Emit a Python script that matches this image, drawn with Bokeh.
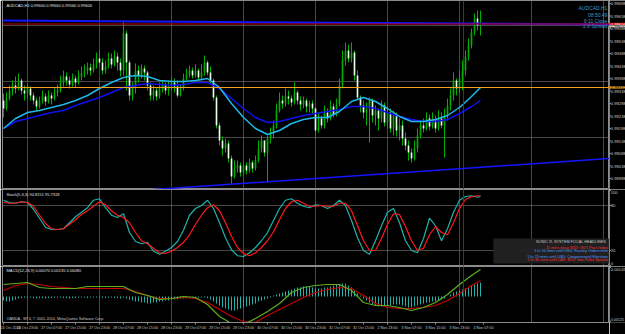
import numpy as np
from bokeh.plotting import figure
from bokeh.models import Range1d, FixedTicker, Span, Label, Grid
from bokeh.layouts import column, row
from bokeh.core.properties import value
from bokeh.embed import file_html
from bokeh.resources import INLINE

FONT = "Liberation Sans"

# ---------------- data (AUDCAD H1, prices in points, 1 pt = 0.00001) ----------------
first_open_pts = 99300
close_pts = [99268,99308,99340,99360,99348,99380,99340,99328,99348,99320,
             99300,99276,99300,99316,99296,99320,99308,99332,99340,99372,
             99396,99380,99364,99388,99372,99396,99408,99420,99432,99420,
             99444,99468,99452,99420,99436,99468,99444,99476,99452,99420,
             99568,99452,99320,99360,99420,99400,99428,99412,99360,99320,
             99340,99316,99348,99364,99340,99356,99372,99356,99320,99348,
             99388,99404,99420,99400,99420,99392,99412,99452,99412,99380,
             99312,99200,99140,99108,99128,99068,98996,99028,99040,99012,
             99040,99020,99052,99028,99060,99108,99140,99092,99148,99172,
             99200,99260,99300,99288,99316,99308,99292,99332,99300,99284,
             99300,99276,99288,99268,99180,99228,99200,99252,99228,99276,
             99244,99284,99360,99460,99500,99468,99492,99400,99312,99280,
             99252,99268,99300,99240,99260,99228,99280,99212,99252,99188,
             99240,99180,99200,99148,99120,99092,99068,99108,99160,99200,
             99188,99228,99196,99220,99188,99228,99200,99240,99280,99320,
             99380,99348,99388,99420,99476,99520,99572,99628,99600,99606]
high_pts = [99328,99332,99360,99380,99396,99408,99388,99360,99364,99356,
            99332,99312,99316,99340,99328,99340,99332,99352,99364,99400,
            99420,99412,99396,99408,99400,99420,99436,99444,99452,99448,
            99468,99492,99500,99468,99460,99492,99488,99500,99492,99468,
            99616,99580,99460,99372,99448,99440,99444,99440,99420,99372,
            99360,99352,99372,99380,99372,99380,99396,99388,99380,99364,
            99408,99428,99440,99432,99444,99428,99444,99480,99460,99436,
            99388,99320,99212,99156,99148,99140,99080,99060,99060,99052,
            99060,99052,99068,99060,99080,99140,99160,99140,99160,99192,
            99220,99288,99332,99320,99348,99340,99320,99372,99340,99316,
            99316,99308,99300,99300,99276,99252,99240,99280,99268,99300,
            99288,99308,99388,99500,99532,99524,99532,99500,99420,99320,
            99300,99292,99312,99308,99280,99268,99300,99292,99276,99268,
            99260,99252,99228,99220,99172,99140,99108,99140,99188,99220,
            99228,99252,99244,99252,99240,99260,99252,99268,99308,99348,
            99412,99388,99420,99460,99500,99548,99588,99648,99660,99660]
low_pts = [99232,99260,99300,99320,99328,99340,99324,99300,99308,99300,
           99284,99260,99268,99288,99280,99288,99284,99300,99316,99332,
           99356,99360,99348,99356,99352,99364,99380,99392,99404,99400,
           99412,99428,99436,99404,99408,99428,99428,99436,99420,99396,
           99400,99340,99300,99300,99328,99372,99388,99380,99340,99300,
           99300,99300,99308,99332,99324,99320,99340,99332,99312,99316,
           99340,99380,99392,99388,99392,99380,99380,99400,99400,99364,
           99300,99188,99120,99080,99092,99052,98968,98988,99012,98996,
           99000,99004,99012,99012,99020,99052,99092,99076,98972,99128,
           99148,99188,99252,99268,99276,99284,99276,99284,99284,99260,
           99268,99252,99252,99248,99148,99172,99188,99188,99212,99220,
           99232,99236,99276,99348,99440,99452,99452,99380,99300,99252,
           99228,99200,99132,99212,99200,99180,99212,99196,99188,99172,
           99160,99156,99140,99120,99100,99060,99052,99060,99092,99148,
           99172,99180,99180,99188,99172,99180,99188,99072,99220,99260,
           99300,99320,99332,99340,99400,99460,99508,99560,99580,99560]

# moving averages, read every 4 bars
ma_bars = [0,4,8,12,16,20,24,28,32,36,40,44,48,52,56,60,64,68,72,76,
           80,84,88,92,96,100,104,108,112,116,120,124,128,132,136,140,144,148,152,156,159]
ma_fast_pts = [99188,99228,99252,99260,99272,99284,99300,99320,99348,99372,
               99392,99400,99396,99380,99376,99376,99380,99388,99352,99288,
               99232,99188,99164,99180,99208,99224,99232,99232,99256,99296,
               99312,99296,99268,99236,99216,99216,99224,99240,99272,99316,99352]
ma_slow_pts = [99188,99216,99228,99240,99252,99260,99280,99296,99312,99332,
               99352,99360,99368,99364,99360,99364,99372,99372,99348,99308,
               99268,99232,99212,99216,99228,99240,99248,99256,99264,99276,
               99276,99268,99252,99236,99224,99216,99216,99224,99248,99276,99300]

# drawn objects
trend_top_bars = [-0.33, 202.0]
trend_top_pts = [99620, 99604]
trend_low_bars = [50, 202.0]
trend_low_pts = [98944, 99068]
level_orange_pts = 99352
marker_bar = 153.33

# stochastic, read every 2 bars
stoch_bars = list(range(0, 160, 2)) + [159]
stoch_k = [87,84,83,85,84,75,63,51,48,48, 49,57,65,71,77,87,89,77,67,64,
           69,44,32,29,31,19,15,19,24,32, 47,67,76,80,87,76,57,37,21,13,
           12,17,24,33,44,60,76,87,89,83, 79,77,81,80,76,80,87,80,60,37,
           20,15,33,53,71,76,57,33,20,17, 36,63,53,33,49,71,87,92,93,91, 92]
stoch_d = [84,83,83,85,84,79,67,56,49,48, 49,55,61,68,73,79,85,81,73,67,
           64,57,44,33,29,23,17,16,19,24, 31,41,55,67,77,81,73,57,39,24,
           16,13,17,24,33,45,61,76,85,87, 83,79,79,80,79,79,83,83,73,53,
           33,20,20,36,55,69,68,52,33,20, 23,41,52,44,41,57,76,88,92,93, 93]

# MACD (points), lines every 4 bars, histogram per bar
macd_main_pts = [60,65,70,45,40,40,40,50,50,50, 50,20,5,-15,-10,0,-5,-40,-100,-135,
                 -140,-110,-75,-35,20,45,55,60,60,30, -30,-45,-45,-55,-70,-55,-30,10,60,105,135]
macd_signal_pts = [30,55,65,60,50,45,40,40,40,40, 40,25,5,-10,-10,-5,-10,-30,-65,-100,
                   -125,-130,-95,-65,-35,-5,20,35,45,40, 5,-35,-55,-60,-60,-55,-45,-20,15,55,80]
macd_hist_pts = [-20,-25,-25,-20,-15,-10,-8,-6,-6,-5,
                 -8,-10,-8,-8,-10,-8,-8,-6,-6,-5,
                 -8,-8,-10,-8,-8,-6,-5,-5,-8,-6,
                 -5,-5,-5,-6,-8,-6,-5,-8,-8,-10,
                 -5,-10,-15,-20,-25,-25,-30,-30,-35,-35,
                 -30,-30,-25,-25,-20,-20,-15,-15,-15,-10,
                 -10,-8,-5,-5,-5,-5,-5,-5,-8,-15,
                 -25,-35,-45,-55,-60,-65,-70,-70,-65,-60,
                 -55,-50,-45,-40,-35,-25,-20,-15,-10,-5,
                 5,10,15,20,25,30,35,40,45,45,
                 50,50,50,45,40,40,40,45,45,50,
                 55,60,60,65,65,55,45,30,15,5,
                 -10,-20,-30,-40,-45,-50,-50,-45,-45,-45,
                 -40,-40,-40,-45,-50,-55,-55,-50,-45,-40,
                 -35,-30,-30,-25,-25,-20,-15,-10,0,10,
                 20,25,30,35,40,45,55,60,65,70]

time_tick_bars = list(range(0, 161, 8))
time_tick_labels = ["24 Oct 2014", "26 Oct 23:00", "27 Oct 07:00", "27 Oct 15:00", "27 Oct 23:00",
                    "28 Oct 07:00", "28 Oct 15:00", "28 Oct 23:00", "29 Oct 07:00", "29 Oct 15:00",
                    "29 Oct 23:00", "30 Oct 07:00", "30 Oct 15:00", "30 Oct 23:00", "31 Oct 07:00",
                    "31 Oct 15:00", "2 Nov 23:00", "3 Nov 07:00", "3 Nov 15:00", "3 Nov 23:00",
                    "4 Nov 07:00"]
price_ticks = [0.99688 - 0.0005 * k for k in range(15)]
stoch_ticks = [100, 80, 20, 0]
macd_ticks = [0.00145, -0.00125]
grid_bars = [8, 32, 56, 80, 104, 128, 152, 176, 200]
price_grid = [0.99600, 0.99376, 0.99152]

headlines = ["SONIC R. SYSTEM   FOCAL HEADLINES",
             "11 mins since NZD: GDT Price Index",
             "1 hr 10 mins until USD: Factory Orders m/m",
             "1 hr 25 mins until USD: Congressional Elections",
             "1 hr 40 mins until CAD: BOC Gov Poloz Speaks"]
headline_colors = ["#c8c8c8", "#ff3030", "#5a9cff", "#5a9cff", "#ff3030"]

# ---------------- derived ----------------
P = 1e-5
bars = np.arange(len(close_pts))
close = np.array(close_pts) * P
high = np.array(high_pts) * P
low = np.array(low_pts) * P
opn = np.array([first_open_pts] + close_pts[:-1]) * P
bull = close >= opn
body_top = np.maximum(opn, close)
body_bot = np.minimum(opn, close)
body_col = ["#00b000" if b else "#e4ffe4" for b in bull]

GRID_C = "#8c8c8c"
AX_C = "#8c8c8c"
LBL_C = "#c8c8c8"
AXW = 16

xr = Range1d(-1 / 3, 202.0)


def make_panel(h, yr, xloc=None, bottom=0):
    p = figure(width=609, height=h, x_range=xr, y_range=yr, output_backend="svg",
               toolbar_location=None, y_axis_location=None, x_axis_location=xloc)
    p.background_fill_color = "black"
    p.border_fill_color = "black"
    p.outline_line_color = AX_C
    p.min_border_left = 2
    p.min_border_right = 0
    p.min_border_top = 0
    p.min_border_bottom = bottom
    p.grid.visible = False
    p.add_layout(Grid(dimension=0, ticker=FixedTicker(ticks=grid_bars),
                      grid_line_color=GRID_C, grid_line_dash="1 1"))
    p.add_layout(Span(location=marker_bar, dimension="height", line_color="#c00000", line_width=1))
    return p


def make_axis(h, yr, ticks, fmt, px_per_unit, bottom=0):
    a = figure(width=AXW, height=h, x_range=Range1d(0, AXW), y_range=yr, output_backend="svg",
               toolbar_location=None, x_axis_location=None, y_axis_location=None)
    a.background_fill_color = "black"
    a.border_fill_color = "black"
    a.outline_line_color = None
    a.min_border = 0
    a.min_border_bottom = bottom
    a.grid.visible = False
    a.segment(x0=[0] * len(ticks), y0=ticks, x1=[1.5] * len(ticks), y1=ticks, line_color=AX_C)
    top, bot = yr.end, yr.start
    for t in ticks:
        off = 0
        if (top - t) * px_per_unit < 3:
            off = 3 - (top - t) * px_per_unit
        if (t - bot) * px_per_unit < 3:
            off = -(3 - (t - bot) * px_per_unit)
        s = fmt(t)
        size = "4.2px" if len(s) <= 7 else "3.6px"
        xs = 1.2 if len(s) <= 7 else 0.2
        a.text(x=[xs], y=[t], y_offset=off, text=[s], text_font=value(FONT),
               text_font_size=value(size), text_color=LBL_C, text_baseline="middle")
    return a


def axis_box(a, y, half, txt, bg, fg):
    a.quad(left=[0], right=[AXW], top=[y + half], bottom=[y - half], fill_color=bg, line_color=None)
    a.text(x=[1.2], y=[y], text=[txt], text_font=value(FONT), text_font_size=value("4.2px"),
           text_color=fg, text_baseline="middle")


# ---------------- main price panel ----------------
main_yr = Range1d(0.98944, 0.99700)
pm = make_panel(189, main_yr)
pm.add_layout(Grid(dimension=1, ticker=FixedTicker(ticks=price_grid),
                   grid_line_color=GRID_C, grid_line_dash="1 1"))

pm.segment(bars, high, bars, low, line_color="#00b000", line_width=1)
pm.vbar(x=bars, width=0.55, top=body_top, bottom=body_bot, fill_color=body_col, line_color=None)

pm.line(np.array(trend_top_bars), np.array(trend_top_pts) * P, line_color="#1414ff", line_width=2)
pm.line(np.array(trend_low_bars), np.array(trend_low_pts) * P, line_color="#1414ff", line_width=1.5)
pm.add_layout(Span(location=level_orange_pts * P, dimension="width", line_color="#f0a020", line_width=1))
pm.add_layout(Span(location=close[-1], dimension="width", line_color="#c00000", line_width=1))

pm.line(np.array(ma_bars), np.array(ma_slow_pts) * P, line_color="#1010f0", line_width=1.5)
pm.line(np.array(ma_bars), np.array(ma_fast_pts) * P, line_color="#1fb8e8", line_width=1.5)

info = "AUDCAD,H1  %.5f %.5f %.5f %.5f" % (opn[-1], high[-1], low[-1], close[-1])
pm.text(x=[1], y=[0.99682], text=[info], text_font=value(FONT), text_font_size=value("4px"),
        text_color="#e0e0e0", text_baseline="middle", text_align="left")
pm.text(x=[201.3] * 4, y=[0.99672, 0.99644, 0.99620, 0.99600],
        text=["AUDCAD,H1", "08:50:49", "9:11 Close", "2.9 Spread"],
        text_font=value(FONT), text_font_size=value("5px"), text_color="#3a9ad0",
        text_baseline="middle", text_align="right")

am = make_axis(189, main_yr, price_ticks, lambda t: "%.5f" % t, 1 / 0.00004)
axis_box(am, close[-1], 0.00005, "%.5f" % close[-1], "#d00000", "white")
axis_box(am, close[-1] - 0.00010, 0.00004, "%.5f" % (close[-1] - 0.00006), "#e8e8e8", "black")
axis_box(am, level_orange_pts * P, 0.00005, "%.5f" % (level_orange_pts * P), "#f0a020", "black")

# ---------------- stochastic panel ----------------
stoch_yr = Range1d(-1.33, 101.33)
ps = make_panel(77, stoch_yr)
ps.add_layout(Grid(dimension=1, ticker=FixedTicker(ticks=[20, 80]),
                   grid_line_color=GRID_C, grid_line_dash="1 1"))
ps.line(stoch_bars, stoch_k, line_color="#20b2aa", line_width=1.2)
ps.line(stoch_bars, stoch_d, line_color="#ff1a1a", line_width=1.2)
ps.text(x=[1], y=[94.7], text=["Stoch(5,3,3) 94.8151 95.7318"], text_font=value(FONT),
        text_font_size=value("4px"), text_color="#e0e0e0", text_baseline="middle")
ps.quad(left=[163.3], right=[xr.end], top=[36], bottom=[2.7], fill_color="#222222",
        fill_alpha=0.95, line_color=None)
ps.text(x=[201.5] * 5, y=[30.7, 24.0, 18.7, 12.0, 6.7], text=headlines, text_color=headline_colors,
        text_font=value(FONT), text_font_size=value("3.8px"), text_align="right", text_baseline="middle")
ast = make_axis(77, stoch_yr, stoch_ticks, lambda t: "%d" % t, 0.75)

# ---------------- MACD panel ----------------
macd_yr = Range1d(-0.00130, 0.00150)
pd_ = make_panel(68, macd_yr, xloc="below", bottom=12)
xa = pd_.xaxis[0]
xa.ticker = FixedTicker(ticks=time_tick_bars)
xa.major_label_overrides = {b: s for b, s in zip(time_tick_bars, time_tick_labels)}
xa.major_label_text_align = "left"
xa.major_label_text_font = FONT
xa.major_label_text_font_size = "3.7px"
xa.major_label_text_color = LBL_C
xa.major_label_standoff = 1
xa.axis_line_color = AX_C
xa.major_tick_line_color = AX_C
xa.minor_tick_line_color = None
xa.major_tick_out = 2
xa.major_tick_in = 0

pd_.segment(bars, 0, bars, np.array(macd_hist_pts) * P, line_color="#20b2aa", line_width=1)
pd_.line(np.array(ma_bars), np.array(macd_signal_pts) * P, line_color="#c80000", line_width=1.2)
pd_.line(np.array(ma_bars), np.array(macd_main_pts) * P, line_color="#5cb01e", line_width=1.2)
pd_.text(x=[1], y=[0.00130], text=["MACD(12,26,9) 0.00070 0.00135 0.00080"], text_font=value(FONT),
         text_font_size=value("4px"), text_color="#e0e0e0", text_baseline="middle")
pd_.text(x=[1], y=[-0.00112], text=["OANDA - MT4, \u00a9 2001-2014, MetaQuotes Software Corp."],
         text_font=value(FONT), text_font_size=value("3.8px"), text_color="#c8c8c8", text_baseline="middle")
pd_.add_layout(Label(x=marker_bar, y=-0.00130, y_offset=-7, text="3 Nov 2014 23:40", text_font=FONT,
                     text_font_size="4px", text_color="white", text_align="center",
                     text_baseline="middle", background_fill_color="#e00000"))
ad = make_axis(68, macd_yr, macd_ticks, lambda t: "%.5f" % t, 1 / 0.00005, bottom=12)

layout = row(column(pm, ps, pd_, spacing=0), column(am, ast, ad, spacing=0), spacing=0)
open("out.html", "w").write(file_html(layout, INLINE))
